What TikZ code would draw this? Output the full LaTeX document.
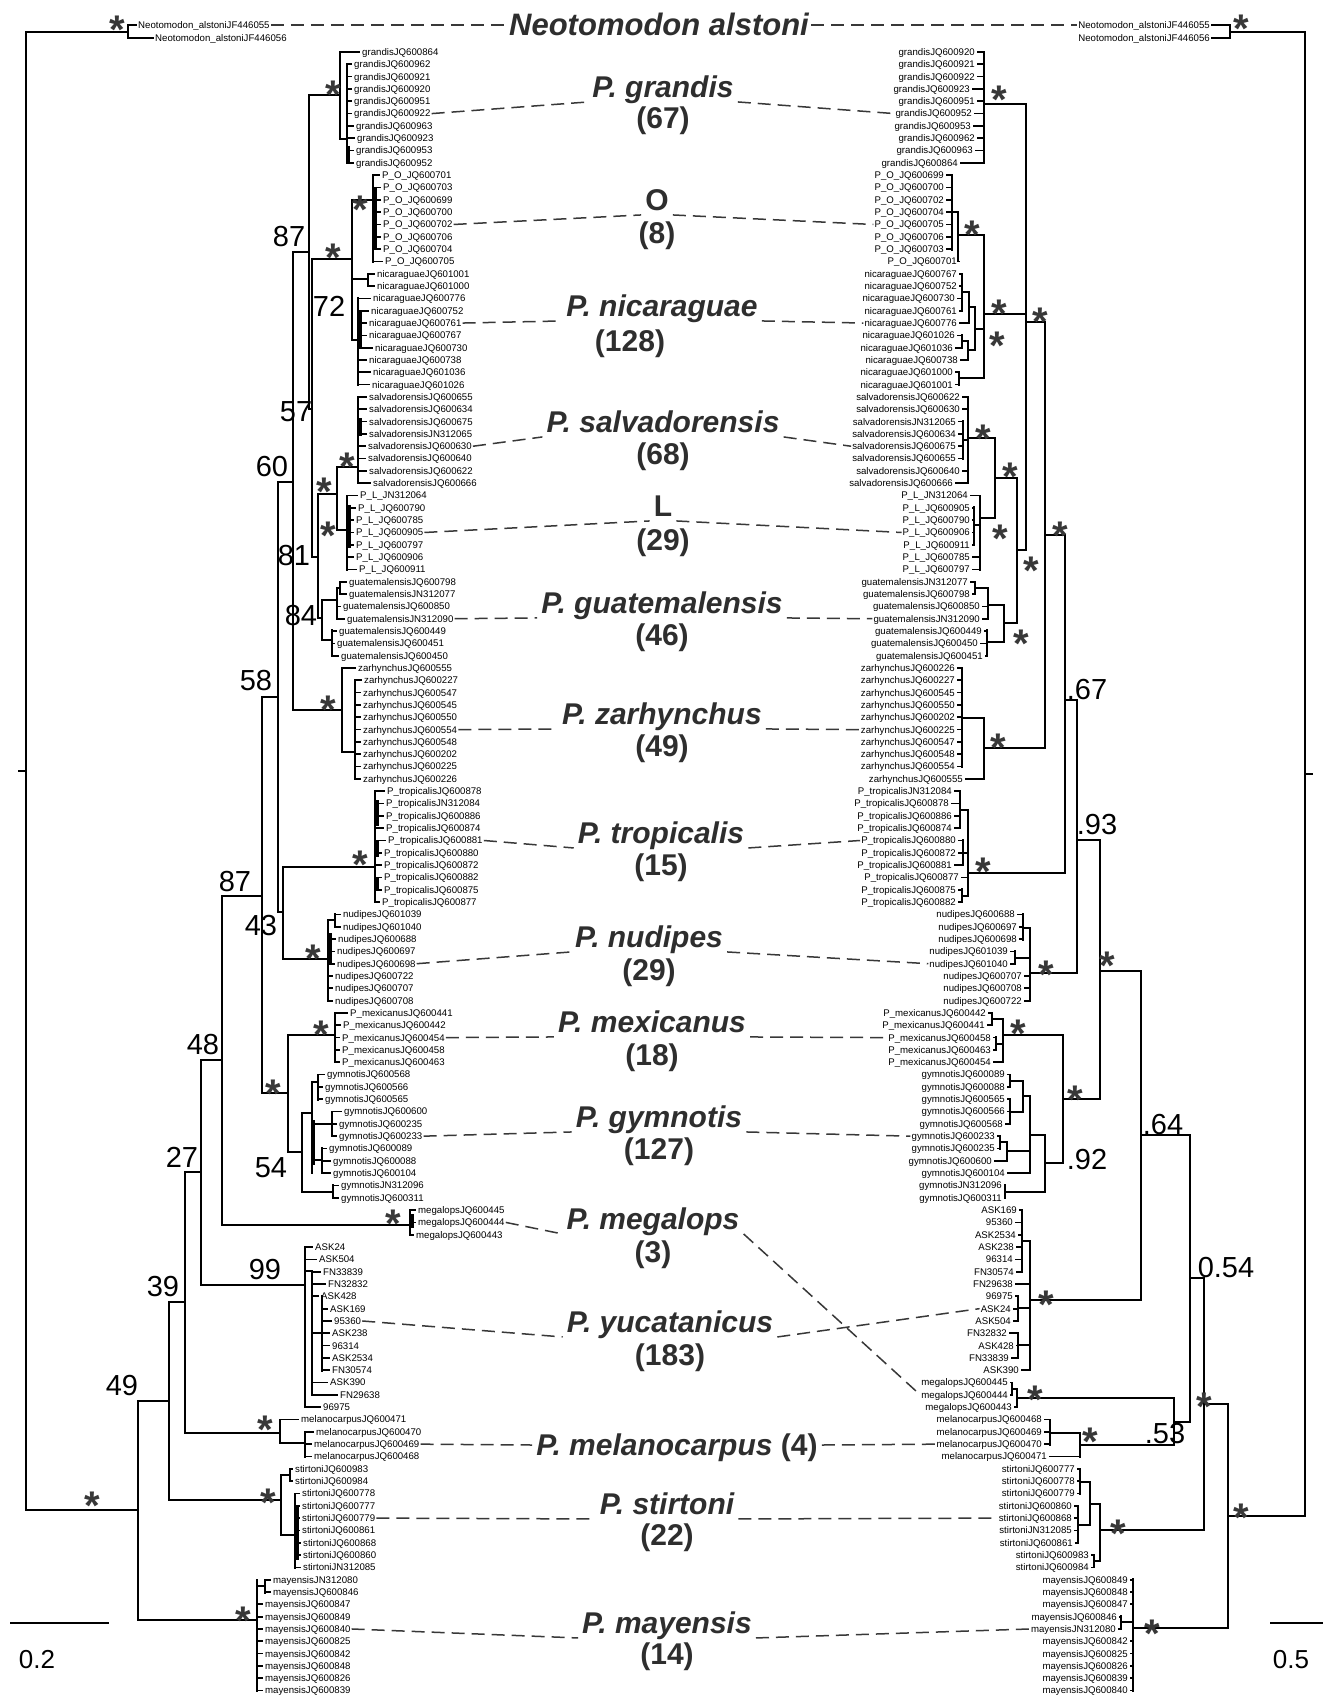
\documentclass[tikz,border=0pt]{standalone}
\usepackage{fontspec}
\setmainfont{Liberation Sans}
\newcommand\lf{\fontsize{9.65}{10}\selectfont}
\newcommand\bigf{\fontsize{30}{32}\selectfont\bfseries\itshape}
\newcommand\cntf{\fontsize{30}{32}\selectfont\bfseries}
\newcommand\numf{\fontsize{29}{30}\selectfont}
\newcommand\vln[3]{\draw[tl] (#1,#2) -- (#1,#3);}
\newcommand\hln[3]{\draw[tl] (#2,#1) -- (#3,#1);}
\newcommand\lticks[2]{\foreach \i in {#2} {\draw[tl] (#1,{ry(\i)}) -- ([xshift=-2.5pt]L\i.west);}}
\newcommand\rticks[2]{\foreach \i in {#2} {\draw[tl] ([xshift=2.5pt]R\i.east) -- (#1,{ry(\i)});}}
\newcommand\sast[3]{\node[astx] (#1) at (#2,#3) {*};}
\newcommand\snum[4]{\node[numx] (#1) at (#2,#3) {#4};}
\tikzset{
  tl/.style={line width=1.7pt, line cap=rect},
  thk/.style={line width=3.2pt},
  ll/.style={anchor=west, inner sep=0pt, font=\lf, text height=6.8pt, text depth=0pt},
  rl/.style={anchor=east, inner sep=0pt, font=\lf, text height=6.8pt, text depth=0pt},
  bigl/.style={font=\bigf, text=black!82, inner sep=0pt, text height=21.5pt, text depth=0pt},
  cntl/.style={font=\cntf, text=black!82, inner sep=0pt},
  dl/.style={dash pattern=on 13pt off 7pt, line width=1.5pt, black!78},
  astx/.style={font=\fontsize{40}{40}\selectfont\bfseries, text=black!78, inner sep=0pt, yshift=-8.6pt},
  numx/.style={font=\numf, inner sep=0pt}
}
\begin{document}
\begin{tikzpicture}[x=1pt,y=-1pt, declare function={ry(\i)=52+12.32*\i;}]
\useasboundingbox (0,0) rectangle (1323,1696);
\fill[white] (0,0) rectangle (1323,1696);

% ---------------- left leaf labels
\foreach \x/\t [count=\i from 0] in {362/grandisJQ600864,354/grandisJQ600962,354/grandisJQ600921,354/grandisJQ600920,354/grandisJQ600951,354/grandisJQ600922,356/grandisJQ600963,357/grandisJQ600923,356/grandisJQ600953,356/grandisJQ600952,
382/P\_O\_JQ600701,383/P\_O\_JQ600703,383/P\_O\_JQ600699,383/P\_O\_JQ600700,383/P\_O\_JQ600702,383/P\_O\_JQ600706,383/P\_O\_JQ600704,385/P\_O\_JQ600705,
377/nicaraguaeJQ601001,377/nicaraguaeJQ601000,373/nicaraguaeJQ600776,371/nicaraguaeJQ600752,369/nicaraguaeJQ600761,369/nicaraguaeJQ600767,375/nicaraguaeJQ600730,369/nicaraguaeJQ600738,373/nicaraguaeJQ601036,372/nicaraguaeJQ601026,
369/salvadorensisJQ600655,369/salvadorensisJQ600634,369/salvadorensisJQ600675,369/salvadorensisJN312065,368/salvadorensisJQ600630,368/salvadorensisJQ600640,369/salvadorensisJQ600622,373/salvadorensisJQ600666,
360/P\_L\_JN312064,358/P\_L\_JQ600790,356/P\_L\_JQ600785,356/P\_L\_JQ600905,356/P\_L\_JQ600797,356/P\_L\_JQ600906,359/P\_L\_JQ600911,
349/guatemalensisJQ600798,349/guatemalensisJN312077,343/guatemalensisJQ600850,347/guatemalensisJN312090,339/guatemalensisJQ600449,337/guatemalensisJQ600451,341/guatemalensisJQ600450,
358/zarhynchusJQ600555,364/zarhynchusJQ600227,363/zarhynchusJQ600547,363/zarhynchusJQ600545,363/zarhynchusJQ600550,363/zarhynchusJQ600554,363/zarhynchusJQ600548,363/zarhynchusJQ600202,363/zarhynchusJQ600225,363/zarhynchusJQ600226,
387/P\_tropicalisJQ600878,386/P\_tropicalisJN312084,386/P\_tropicalisJQ600886,386/P\_tropicalisJQ600874,388/P\_tropicalisJQ600881,384/P\_tropicalisJQ600880,384/P\_tropicalisJQ600872,384/P\_tropicalisJQ600882,384/P\_tropicalisJQ600875,382/P\_tropicalisJQ600877,
343/nudipesJQ601039,343/nudipesJQ601040,338/nudipesJQ600688,337/nudipesJQ600697,337/nudipesJQ600698,335/nudipesJQ600722,335/nudipesJQ600707,335/nudipesJQ600708,
350/P\_mexicanusJQ600441,343/P\_mexicanusJQ600442,342/P\_mexicanusJQ600454,342/P\_mexicanusJQ600458,342/P\_mexicanusJQ600463,
327/gymnotisJQ600568,325/gymnotisJQ600566,325/gymnotisJQ600565,344/gymnotisJQ600600,339/gymnotisJQ600235,339/gymnotisJQ600233,329/gymnotisJQ600089,333/gymnotisJQ600088,333/gymnotisJQ600104,341/gymnotisJN312096,341/gymnotisJQ600311,
418/megalopsJQ600445,418/megalopsJQ600444,416/megalopsJQ600443,
315/ASK24,319/ASK504,323/FN33839,328/FN32832,321/ASK428,330/ASK169,334/95360,332/ASK238,332/96314,332/ASK2534,332/FN30574,330/ASK390,340/FN29638,323/96975,
301/melanocarpusJQ600471,316/melanocarpusJQ600470,314/melanocarpusJQ600469,314/melanocarpusJQ600468,
295/stirtoniJQ600983,295/stirtoniJQ600984,302/stirtoniJQ600778,302/stirtoniJQ600777,302/stirtoniJQ600779,302/stirtoniJQ600861,303/stirtoniJQ600868,303/stirtoniJQ600860,303/stirtoniJN312085,
273/mayensisJN312080,273/mayensisJQ600846,265/mayensisJQ600847,265/mayensisJQ600849,265/mayensisJQ600840,265/mayensisJQ600825,265/mayensisJQ600842,265/mayensisJQ600848,265/mayensisJQ600826,265/mayensisJQ600839}
{\node[ll] (L\i) at (\x,{ry(\i)}) {\t};}

% ---------------- right leaf labels
\foreach \x/\t [count=\i from 0] in {975/grandisJQ600920,975/grandisJQ600921,975/grandisJQ600922,970/grandisJQ600923,975/grandisJQ600951,972/grandisJQ600952,971/grandisJQ600953,975/grandisJQ600962,973/grandisJQ600963,958/grandisJQ600864,
944/P\_O\_JQ600699,944/P\_O\_JQ600700,944/P\_O\_JQ600702,944/P\_O\_JQ600704,944/P\_O\_JQ600705,944/P\_O\_JQ600706,944/P\_O\_JQ600703,957/P\_O\_JQ600701,
957/nicaraguaeJQ600767,957/nicaraguaeJQ600752,955/nicaraguaeJQ600730,957/nicaraguaeJQ600761,957/nicaraguaeJQ600776,955/nicaraguaeJQ601026,953/nicaraguaeJQ601036,958/nicaraguaeJQ600738,953/nicaraguaeJQ601000,953/nicaraguaeJQ601001,
960/salvadorensisJQ600622,960/salvadorensisJQ600630,956/salvadorensisJN312065,956/salvadorensisJQ600634,956/salvadorensisJQ600675,956/salvadorensisJQ600655,960/salvadorensisJQ600640,953/salvadorensisJQ600666,
968/P\_L\_JN312064,970/P\_L\_JQ600905,970/P\_L\_JQ600790,970/P\_L\_JQ600906,970/P\_L\_JQ600911,970/P\_L\_JQ600785,970/P\_L\_JQ600797,
968/guatemalensisJN312077,970/guatemalensisJQ600798,980/guatemalensisJQ600850,980/guatemalensisJN312090,982/guatemalensisJQ600449,978/guatemalensisJQ600450,983/guatemalensisJQ600451,
955/zarhynchusJQ600226,955/zarhynchusJQ600227,955/zarhynchusJQ600545,955/zarhynchusJQ600550,955/zarhynchusJQ600202,955/zarhynchusJQ600225,955/zarhynchusJQ600547,955/zarhynchusJQ600548,955/zarhynchusJQ600554,963/zarhynchusJQ600555,
952/P\_tropicalisJN312084,949/P\_tropicalisJQ600878,952/P\_tropicalisJQ600886,952/P\_tropicalisJQ600874,956/P\_tropicalisJQ600880,956/P\_tropicalisJQ600872,952/P\_tropicalisJQ600881,959/P\_tropicalisJQ600877,956/P\_tropicalisJQ600875,956/P\_tropicalisJQ600882,
1015/nudipesJQ600688,1017/nudipesJQ600697,1017/nudipesJQ600698,1008/nudipesJQ601039,1008/nudipesJQ601040,1022/nudipesJQ600707,1022/nudipesJQ600708,1022/nudipesJQ600722,
986/P\_mexicanusJQ600442,985/P\_mexicanusJQ600441,991/P\_mexicanusJQ600458,991/P\_mexicanusJQ600463,991/P\_mexicanusJQ600454,
1005/gymnotisJQ600089,1005/gymnotisJQ600088,1005/gymnotisJQ600565,1005/gymnotisJQ600566,1003/gymnotisJQ600568,995/gymnotisJQ600233,995/gymnotisJQ600235,992/gymnotisJQ600600,1005/gymnotisJQ600104,1002/gymnotisJN312096,1002/gymnotisJQ600311,
1017/ASK169,1013/95360,1016/ASK2534,1014/ASK238,1013/96314,1014/FN30574,1013/FN29638,1013/96975,1011/ASK24,1011/ASK504,1007/FN32832,1014/ASK428,1009/FN33839,1019/ASK390,
1008/megalopsJQ600445,1008/megalopsJQ600444,1012/megalopsJQ600443,
1042/melanocarpusJQ600468,1042/melanocarpusJQ600469,1042/melanocarpusJQ600470,1047/melanocarpusJQ600471,
1075/stirtoniJQ600777,1075/stirtoniJQ600778,1075/stirtoniJQ600779,1072/stirtoniJQ600860,1072/stirtoniJQ600868,1072/stirtoniJN312085,1073/stirtoniJQ600861,1089/stirtoniJQ600983,1089/stirtoniJQ600984,
1128/mayensisJQ600849,1128/mayensisJQ600848,1128/mayensisJQ600847,1117/mayensisJQ600846,1116/mayensisJN312080,1128/mayensisJQ600842,1128/mayensisJQ600825,1128/mayensisJQ600826,1128/mayensisJQ600839,1128/mayensisJQ600840}
{\node[rl] (R\i) at (\x,{ry(\i)}) {\t};}

\node[ll] (LN1) at (138,25) {Neotomodon\_alstoniJF446055};
\node[ll] (LN2) at (155,38) {Neotomodon\_alstoniJF446056};
\node[rl] (RN1) at (1210,25) {Neotomodon\_alstoniJF446055};
\node[rl] (RN2) at (1210,38) {Neotomodon\_alstoniJF446056};

% ---------------- big labels
\node[bigl, font=\fontsize{31}{32}\selectfont\bfseries\itshape, text height=22pt] (bNeo) at (659,25) {Neotomodon alstoni};
\node[bigl] (bgr) at (663,87) {P. grandis};   \node[cntl] (cgr) at (663,121) {(67)};
\node[bigl] (bO) at (657,200) {\upshape O};   \node[cntl] (cO) at (657,236) {(8)};
\node[bigl] (bnic) at (662,306) {P. nicaraguae}; \node[cntl] (cnic) at (630,344) {(128)};
\node[bigl] (bsal) at (663,422) {P. salvadorensis}; \node[cntl] (csal) at (663,457) {(68)};
\node[bigl] (bL) at (663,506) {\upshape L};   \node[cntl] (cL) at (663,543) {(29)};
\node[bigl] (bgua) at (662,603) {P. guatemalensis}; \node[cntl] (cgua) at (662,638) {(46)};
\node[bigl] (bzar) at (662,714) {P. zarhynchus}; \node[cntl] (czar) at (662,749) {(49)};
\node[bigl] (btro) at (661,833) {P. tropicalis}; \node[cntl] (ctro) at (661,868) {(15)};
\node[bigl] (bnud) at (649,937) {P. nudipes}; \node[cntl] (cnud) at (649,973) {(29)};
\node[bigl] (bmex) at (652,1022) {P. mexicanus}; \node[cntl] (cmex) at (652,1058) {(18)};
\node[bigl] (bgym) at (659,1117) {P. gymnotis}; \node[cntl] (cgym) at (659,1152) {(127)};
\node[bigl] (bmeg) at (653,1219) {P. megalops}; \node[cntl] (cmeg) at (653,1255) {(3)};
\node[bigl] (byuc) at (670,1322) {P. yucatanicus}; \node[cntl] (cyuc) at (670,1358) {(183)};
\node[bigl] (bmel) at (677,1445) {P. melanocarpus \upshape(4)};
\node[bigl] (bsti) at (667,1504) {P. stirtoni}; \node[cntl] (csti) at (667,1538) {(22)};
\node[bigl] (bmay) at (667,1623) {P. mayensis}; \node[cntl] (cmay) at (667,1657) {(14)};

% ---------------- dashed connectors
\draw[dl] ([xshift=1pt]LN1.east) -- ([xshift=-2pt]bNeo.west);
\draw[dl] ([xshift=2pt]bNeo.east) -- ([xshift=-1pt]RN1.west);
\draw[dl] ([xshift=1pt]L5.east) -- ([xshift=-4pt,yshift=-4pt]bgr.south west);
\draw[dl] ([xshift=4pt,yshift=-4pt]bgr.south east) -- ([xshift=-1pt]R5.west);
\draw[dl] ([xshift=1pt]L14.east) -- ([xshift=-4pt,yshift=-4pt]bO.south west);
\draw[dl] ([xshift=4pt,yshift=-4pt]bO.south east) -- ([xshift=-1pt]R14.west);
\draw[dl] ([xshift=1pt]L22.east) -- ([xshift=-4pt,yshift=-4pt]bnic.south west);
\draw[dl] ([xshift=4pt,yshift=-4pt]bnic.south east) -- ([xshift=-1pt]R22.west);
\draw[dl] ([xshift=1pt]L32.east) -- ([xshift=-4pt,yshift=-4pt]bsal.south west);
\draw[dl] ([xshift=4pt,yshift=-4pt]bsal.south east) -- ([xshift=-1pt]R32.west);
\draw[dl] ([xshift=1pt]L39.east) -- ([xshift=-4pt,yshift=-4pt]bL.south west);
\draw[dl] ([xshift=4pt,yshift=-4pt]bL.south east) -- ([xshift=-1pt]R39.west);
\draw[dl] ([xshift=1pt]L46.east) -- ([xshift=-4pt,yshift=-4pt]bgua.south west);
\draw[dl] ([xshift=4pt,yshift=-4pt]bgua.south east) -- ([xshift=-1pt]R46.west);
\draw[dl] ([xshift=1pt]L55.east) -- ([xshift=-4pt,yshift=-4pt]bzar.south west);
\draw[dl] ([xshift=4pt,yshift=-4pt]bzar.south east) -- ([xshift=-1pt]R55.west);
\draw[dl] ([xshift=1pt]L64.east) -- ([xshift=-4pt,yshift=-4pt]btro.south west);
\draw[dl] ([xshift=4pt,yshift=-4pt]btro.south east) -- ([xshift=-1pt]R64.west);
\draw[dl] ([xshift=1pt]L74.east) -- ([xshift=-4pt,yshift=-4pt]bnud.south west);
\draw[dl] ([xshift=4pt,yshift=-4pt]bnud.south east) -- ([xshift=-1pt]R74.west);
\draw[dl] ([xshift=1pt]L80.east) -- ([xshift=-4pt,yshift=-4pt]bmex.south west);
\draw[dl] ([xshift=4pt,yshift=-4pt]bmex.south east) -- ([xshift=-1pt]R80.west);
\draw[dl] ([xshift=1pt]L88.east) -- ([xshift=-4pt,yshift=-4pt]bgym.south west);
\draw[dl] ([xshift=4pt,yshift=-4pt]bgym.south east) -- ([xshift=-1pt]R88.west);
\draw[dl] ([xshift=1pt]L95.east) -- ([xshift=-4pt,yshift=-4pt]bmeg.south west);
\draw[dl] ([xshift=4pt,yshift=-4pt]bmeg.south east) -- ([xshift=-1pt]R109.west);
\draw[dl] ([xshift=1pt]L103.east) -- ([xshift=-4pt,yshift=-4pt]byuc.south west);
\draw[dl] ([xshift=4pt,yshift=-4pt]byuc.south east) -- ([xshift=-1pt]R102.west);
\draw[dl] ([xshift=1pt]L113.east) -- ([xshift=-4pt]bmel.west);
\draw[dl] ([xshift=4pt]bmel.east) -- ([xshift=-1pt]R113.west);
\draw[dl] ([xshift=1pt]L119.east) -- ([xshift=-4pt,yshift=-4pt]bsti.south west);
\draw[dl] ([xshift=4pt,yshift=-4pt]bsti.south east) -- ([xshift=-1pt]R119.west);
\draw[dl] ([xshift=1pt]L128.east) -- ([xshift=-4pt,yshift=-4pt]bmay.south west);
\draw[dl] ([xshift=4pt,yshift=-4pt]bmay.south east) -- ([xshift=-1pt]R128.west);

% ================= LEFT TREE
\hln{32}{26}{128}
\vln{128}{25}{38}
\draw[tl] (128,25) -- ([xshift=-2pt]LN1.west);
\draw[tl] (128,38) -- ([xshift=-2pt]LN2.west);
\vln{26}{32}{1510}
\hln{771}{19}{26}
% grandis
\vln{309}{95}{409}
\hln{252}{293}{309}
\hln{95}{309}{340}
\vln{340}{52}{139}
\hln{139}{340}{347}
\vln{347}{64}{162}
\lticks{340}{0}
\lticks{347}{1,...,9}
\draw[thk] (348.5,146) -- (348.5,163);
% node 57 and O + nicaraguae
\vln{312}{259}{557}
\hln{409}{309}{312}
\hln{259}{312}{352}
\vln{352}{200}{340}
\hln{200}{352}{373}
\vln{373}{175}{262}
\draw[thk] (375,187) -- (375,250);
\lticks{373}{10,...,17}
\hln{279}{352}{368}
\vln{368}{274}{286}
\lticks{368}{18,19}
\hln{340}{352}{358}
\vln{358}{298}{385}
\draw[thk] (360,312) -- (360,348);
\lticks{358}{20,...,27}
% node 81
\hln{557}{312}{318}
\vln{318}{494}{618}
\hln{494}{318}{337}
\vln{337}{467}{530}
\hln{467}{337}{358}
\vln{358}{397}{483}
\lticks{358}{28,...,35}
\draw[thk] (360,418) -- (360,436);
\hln{530}{337}{347}
\vln{347}{496}{570}
\draw[thk] (349,505) -- (349,548);
\lticks{347}{36,...,42}
\hln{618}{318}{322}
\vln{322}{600}{640}
\hln{600}{322}{337}
\vln{337}{588}{619}
\lticks{337}{45,46}
\hln{588}{337}{340}
\vln{340}{582}{594}
\lticks{340}{43,44}
\hln{640}{322}{332}
\vln{332}{630}{656}
\lticks{332}{47,48,49}
% node 60 + zarhynchus
\vln{293}{252}{710}
\hln{482}{278}{293}
\hln{710}{293}{342}
\vln{342}{668}{752}
\lticks{342}{50}
\hln{752}{342}{355}
\vln{355}{680}{779}
\lticks{355}{51,...,59}
% node 58, 43
\vln{278}{482}{912}
\hln{697}{262}{278}
\hln{912}{278}{283}
\vln{283}{867}{959}
\hln{867}{283}{375}
\vln{375}{791}{902}
\lticks{375}{60,...,69}
\draw[thk] (377,800) -- (377,826);
\draw[thk] (377,840) -- (377,857);
\draw[thk] (377,877) -- (377,889);
\hln{959}{283}{328}
\vln{328}{920}{1001}
\hln{920}{328}{335}
\vln{335}{914}{927}
\lticks{335}{70,71}
\lticks{328}{72,...,77}
\draw[thk] (330,933) -- (330,963);
% node 87b, mexicanus + gymnotis
\vln{262}{697}{1093}
\hln{896}{222}{262}
\hln{1093}{262}{288}
\vln{288}{1035}{1152}
\hln{1035}{288}{335}
\vln{335}{1013}{1062}
\lticks{335}{78,...,82}
\hln{1152}{288}{302}
\vln{302}{1113}{1192}
\hln{1113}{302}{312}
\vln{312}{1082}{1173}
\draw[thk] (313,1120) -- (313,1165);
\hln{1082}{312}{318}
\vln{318}{1075}{1100}
\lticks{318}{83,84,85}
\hln{1124}{312}{332}
\vln{332}{1112}{1136}
\lticks{332}{86,87,88}
\hln{1160}{312}{322}
\vln{322}{1148}{1173}
\lticks{322}{89,90,91}
\hln{1192}{302}{333}
\vln{333}{1185}{1198}
\lticks{333}{92,93}
% node 48 + megalops
\vln{222}{896}{1225}
\hln{1060}{201}{222}
\hln{1225}{222}{410}
\vln{410}{1210}{1235}
\draw[thk] (412,1214) -- (412,1228);
\lticks{410}{94,95,96}
% node 27 + yucatanicus
\vln{201}{1060}{1285}
\hln{1172}{185}{201}
\hln{1285}{201}{305}
\vln{305}{1247}{1407}
\lticks{305}{97,98,110}
\hln{1271}{305}{312}
\draw[line width=2.7pt] (312,1271) -- (312,1395);
\lticks{312}{99,100,101,108,109}
\hln{1333}{312}{322}
\vln{322}{1296}{1371}
\lticks{322}{102,...,107}
% node 39 + melanocarpus
\vln{185}{1172}{1433}
\hln{1302}{169}{185}
\hln{1433}{185}{280}
\vln{280}{1420}{1443}
\lticks{280}{111}
\hln{1443}{280}{305}
\vln{305}{1432}{1457}
\lticks{305}{112,113,114}
% node 49 + stirtoni
\vln{169}{1302}{1500}
\hln{1401}{138}{169}
\hln{1500}{169}{281}
\vln{281}{1475}{1535}
\hln{1475}{281}{290}
\vln{290}{1469}{1481}
\lticks{290}{115,116}
\hln{1535}{281}{295}
\vln{295}{1494}{1568}
\draw[thk] (297,1505) -- (297,1560);
\lticks{295}{117,...,123}
% node A + mayensis
\vln{138}{1401}{1620}
\hln{1510}{26}{138}
\hln{1620}{138}{257}
\vln{257}{1580}{1691}
\hln{1586}{257}{265}
\vln{265}{1580}{1593}
\lticks{265}{124,125}
\lticks{257}{126,...,133}

% left supports
\sast{la1}{117}{21}
\sast{la2}{92}{1497}
\sast{la3}{243}{1612}
\sast{la4}{268}{1494}
\sast{la5}{265}{1421}
\sast{la6}{393}{1215}
\sast{la7}{321}{1026}
\sast{la8}{273}{1085}
\sast{la9}{313}{950}
\sast{la10}{360}{856}
\sast{la11}{328}{701}
\sast{la12}{347}{458}
\sast{la13}{324}{483}
\sast{la14}{328}{527}
\sast{la15}{333}{86}
\sast{la16}{333}{249}
\sast{la17}{360}{201}
\snum{ln1}{289}{237}{87}
\snum{ln2}{329}{306}{72}
\snum{ln3}{296}{412}{57}
\snum{ln4}{272}{467}{60}
\snum{ln5}{294}{556}{81}
\snum{ln6}{301}{616}{84}
\snum{ln7}{256}{681}{58}
\snum{ln8}{235}{882}{87}
\snum{ln9}{261}{926}{43}
\snum{ln10}{203}{1045}{48}
\snum{ln11}{271}{1168}{54}
\snum{ln12}{182}{1157}{27}
\snum{ln13}{265}{1270}{99}
\snum{ln14}{163}{1287}{39}
\snum{ln15}{122}{1386}{49}

% ================= RIGHT TREE
\draw[tl] ([xshift=2pt]RN1.east) -- (1230,25);
\draw[tl] ([xshift=2pt]RN2.east) -- (1230,38);
\vln{1230}{25}{38}
\hln{32}{1230}{1305}
\vln{1305}{32}{1516}
\hln{774}{1305}{1312}
% grandis
\rticks{984}{0,...,9}
\vln{984}{52}{163}
\hln{104}{984}{1026}
% P_O
\rticks{952}{10,...,16}
\vln{952}{175}{250}
\hln{212}{952}{958}
\rticks{958}{17}
\vln{958}{212}{261}
\hln{235}{958}{984}
% nicaraguae
\rticks{962}{18,...,21}
\vln{962}{274}{311}
\hln{292}{962}{969}
\rticks{969}{22}
\vln{969}{292}{323}
\hln{307}{969}{975}
\rticks{962}{23,24}
\vln{962}{335}{348}
\hln{341}{962}{968}
\rticks{968}{25}
\vln{968}{341}{360}
\hln{350}{968}{975}
\vln{975}{307}{350}
\hln{329}{975}{984}
\rticks{959}{26,27}
\vln{959}{372}{385}
\hln{378}{959}{984}
\vln{984}{235}{378}
\hln{314}{984}{1026}
% salvadorensis
\rticks{968}{28,29,34,35}
\rticks{963}{30,...,33}
\vln{963}{421}{459}
\hln{440}{963}{968}
\vln{968}{397}{483}
\hln{438}{968}{995}
% L
\rticks{980}{36,41,42}
\rticks{974}{37,...,40}
\vln{974}{507}{544}
\hln{525}{974}{980}
\vln{980}{496}{570}
\hln{518}{980}{995}
\vln{995}{438}{518}
\hln{478}{995}{1017}
% guatemalensis
\rticks{975}{43,44}
\vln{975}{582}{594}
\hln{588}{975}{988}
\rticks{988}{45,46}
\vln{988}{588}{619}
\hln{605}{988}{1004}
\rticks{987}{47,48,49}
\vln{987}{630}{656}
\hln{642}{987}{1004}
\vln{1004}{605}{642}
\hln{623}{1004}{1017}
\vln{1017}{478}{623}
\hln{550}{1017}{1026}
\vln{1026}{104}{550}
\hln{322}{1026}{1045}
% zarhynchus
\rticks{962}{50,...,58}
\vln{962}{668}{767}
\hln{718}{962}{984}
\rticks{984}{59}
\vln{984}{718}{779}
\hln{748}{984}{1045}
\vln{1045}{322}{748}
\hln{535}{1045}{1065}
% tropicalis
\rticks{960}{60,...,63}
\vln{960}{791}{828}
\hln{810}{960}{968}
\rticks{963}{64,65,66}
\vln{963}{840}{865}
\hln{853}{963}{968}
\rticks{968}{67}
\rticks{962}{68,69}
\vln{962}{889}{902}
\hln{896}{962}{968}
\vln{968}{810}{896}
\hln{873}{968}{1065}
\vln{1065}{535}{873}
\hln{700}{1065}{1077}
% nudipes
\rticks{1023}{70,71,72}
\vln{1023}{914}{940}
\hln{928}{1023}{1030}
\rticks{1015}{73,74}
\vln{1015}{951}{964}
\hln{958}{1015}{1030}
\rticks{1030}{75,76,77}
\vln{1030}{928}{1001}
\hln{973}{1030}{1077}
\vln{1077}{700}{973}
\hln{840}{1077}{1100}
% mexicanus
\rticks{992}{78,79}
\vln{992}{1013}{1025}
\hln{1019}{992}{1003}
\rticks{996}{80,81}
\vln{996}{1037}{1050}
\hln{1044}{996}{1003}
\rticks{1003}{82}
\vln{1003}{1019}{1062}
\hln{1035}{1003}{1063}
% gymnotis
\rticks{1010}{83,84}
\vln{1010}{1075}{1087}
\hln{1081}{1010}{1023}
\rticks{1010}{85,86,87}
\vln{1010}{1100}{1124}
\hln{1112}{1010}{1023}
\vln{1023}{1081}{1112}
\hln{1096}{1023}{1030}
\rticks{1000}{88,89}
\vln{1000}{1136}{1149}
\hln{1142}{1000}{1007}
\rticks{1007}{90}
\vln{1007}{1142}{1161}
\hln{1151}{1007}{1030}
\rticks{1030}{91}
\vln{1030}{1096}{1173}
\hln{1135}{1030}{1045}
\rticks{1005}{92,93}
\vln{1005}{1185}{1198}
\hln{1192}{1005}{1045}
\vln{1045}{1135}{1192}
\hln{1163}{1045}{1063}
\vln{1063}{1035}{1163}
\hln{1099}{1063}{1100}
\vln{1100}{840}{1099}
\hln{971}{1100}{1141}
% yucatanicus
\rticks{1022}{94,...,99}
\vln{1022}{1210}{1272}
\hln{1241}{1022}{1030}
\rticks{1030}{100,107}
\rticks{1018}{101,102,103}
\vln{1018}{1296}{1321}
\hln{1308}{1018}{1030}
\rticks{1018}{104,105,106}
\vln{1018}{1333}{1358}
\hln{1345}{1018}{1030}
\vln{1030}{1241}{1370}
\hln{1300}{1030}{1141}
\vln{1141}{971}{1300}
\hln{1135}{1141}{1190}
% megalops
\rticks{1012}{108,109}
\vln{1012}{1383}{1395}
\hln{1389}{1012}{1017}
\rticks{1017}{110}
\vln{1017}{1389}{1407}
\hln{1398}{1017}{1174}
% melanocarpus
\rticks{1050}{111,112,113}
\vln{1050}{1420}{1445}
\hln{1433}{1050}{1080}
\rticks{1080}{114}
\vln{1080}{1433}{1457}
\hln{1445}{1080}{1174}
\vln{1174}{1398}{1445}
\hln{1422}{1174}{1190}
\vln{1190}{1135}{1422}
\hln{1278}{1190}{1204}
% stirtoni
\rticks{1080}{115,116,117}
\vln{1080}{1469}{1494}
\hln{1482}{1080}{1090}
\rticks{1078}{118,...,121}
\vln{1078}{1506}{1543}
\hln{1525}{1078}{1090}
\vln{1090}{1482}{1525}
\hln{1504}{1090}{1100}
\rticks{1094}{122,123}
\vln{1094}{1555}{1567}
\hln{1561}{1094}{1100}
\vln{1100}{1504}{1561}
\hln{1530}{1100}{1204}
\vln{1204}{1278}{1530}
\hln{1404}{1204}{1228}
% mayensis
\rticks{1133}{124,125,126,129,130,131,132,133}
\rticks{1121}{127,128}
\vln{1121}{1616}{1629}
\hln{1622}{1121}{1133}
\vln{1133}{1579}{1691}
\hln{1628}{1133}{1228}
\vln{1228}{1404}{1628}
\hln{1516}{1228}{1305}

% right supports
\sast{ra1}{1241}{20}
\sast{ra2}{999}{91}
\sast{ra3}{972}{226}
\sast{ra4}{999}{305}
\sast{ra5}{1040}{313}
\sast{ra6}{997}{337}
\sast{ra7}{983}{430}
\sast{ra8}{1010}{468}
\sast{ra9}{1000}{530}
\sast{ra10}{1031}{562}
\sast{ra11}{1021}{635}
\sast{ra12}{1060}{527}
\sast{ra13}{998}{739}
\sast{ra14}{983}{863}
\sast{ra15}{1046}{966}
\sast{ra16}{1018}{1025}
\sast{ra17}{1075}{1091}
\sast{ra18}{1107}{957}
\sast{ra19}{1046}{1296}
\sast{ra20}{1035}{1391}
\sast{ra21}{1090}{1433}
\sast{ra22}{1204}{1398}
\sast{ra23}{1118}{1525}
\sast{ra24}{1241}{1509}
\sast{ra25}{1152}{1625}
\snum{rn1}{1087}{690}{.67}
\snum{rn2}{1097}{825}{.93}
\snum{rn3}{1087}{1160}{.92}
\snum{rn4}{1163}{1125}{.64}
\snum{rn5}{1226}{1268}{0.54}
\snum{rn6}{1165}{1433}{.53}

% scale bars
\draw[tl] (11,1623) -- (108,1623);
\node[font=\fontsize{26}{28}\selectfont, inner sep=0pt] (sb1) at (37,1660) {0.2};
\draw[tl] (1271,1623) -- (1322,1623);
\node[font=\fontsize{26}{28}\selectfont, inner sep=0pt] (sb2) at (1291,1660) {0.5};
\end{tikzpicture}
\end{document}
